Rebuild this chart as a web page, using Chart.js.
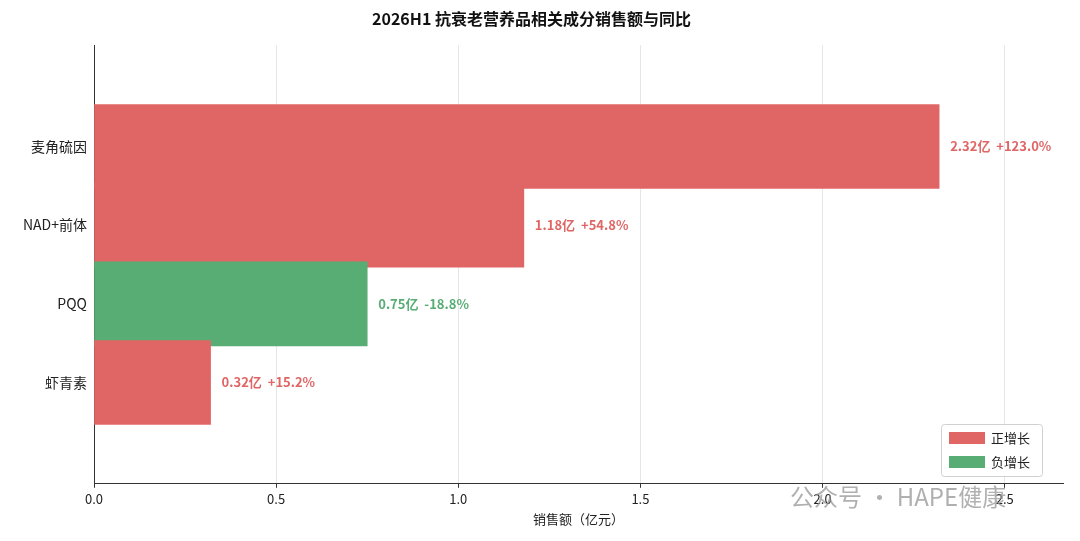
<!DOCTYPE html>
<html><head><meta charset="utf-8">
<script src="https://cdn.jsdelivr.net/npm/chart.js@4/dist/chart.umd.min.js"></script>
<style>
body{margin:0;background:#fff;}
#wrap{width:1080px;height:541px;position:relative;}
</style></head>
<body><div id="wrap"><canvas id="c" width="1080" height="541"></canvas></div>
<script>
// 数据
const categories = ['麦角硫因', 'NAD+前体', 'PQQ', '虾青素'];
const sales = [2.32, 1.18, 0.75, 0.32];
const yoy = [123.0, 54.8, -18.8, 15.2];
const xTicks = [0, 0.5, 1.0, 1.5, 2.0, 2.5];

const RED = '#e06666';
const GREEN = '#57ad74';
const FONT = '"Noto Sans CJK SC", "Noto Sans", sans-serif';

const colors = yoy.map(v => v >= 0 ? RED : GREEN);

// 柱子右侧标注 + 图例 + 水印
const extras = {
  id: 'extras',
  afterDatasetsDraw(chart) {
    const ctx = chart.ctx;
    const meta = chart.getDatasetMeta(0);
    ctx.save();
    ctx.font = 'bold 13px ' + FONT;
    ctx.textBaseline = 'middle';
    meta.data.forEach((bar, i) => {
      const sign = yoy[i] >= 0 ? '+' : '';
      ctx.fillStyle = colors[i];
      ctx.fillText(sales[i].toFixed(2) + '亿  ' + sign + yoy[i].toFixed(1) + '%', bar.x + 11, bar.y);
    });

    // 水印
    ctx.font = '24px ' + FONT;
    ctx.fillStyle = 'rgba(150,150,150,0.75)';
    ctx.fillText('公众号 · HAPE健康', 790, 497);

    // 图例
    const bx = 941, by = 424, bw = 101, bh = 52;
    ctx.fillStyle = 'rgba(255,255,255,0.85)';
    ctx.strokeStyle = '#d0d0d0';
    ctx.lineWidth = 1;
    ctx.beginPath();
    ctx.roundRect(bx + 0.5, by + 0.5, bw, bh, 3);
    ctx.fill(); ctx.stroke();
    ctx.font = '13px ' + FONT;
    [['正增长', RED], ['负增长', GREEN]].forEach((it, k) => {
      const yy = by + 14 + k * 24;
      ctx.fillStyle = it[1];
      ctx.fillRect(bx + 8, yy - 6, 36, 12);
      ctx.fillStyle = '#222';
      ctx.fillText(it[0], bx + 50, yy);
    });
    ctx.restore();
  }
};

new Chart(document.getElementById('c'), {
  type: 'bar',
  data: {
    datasets: [{
      data: sales.map((v, i) => ({ x: v, y: i })),
      backgroundColor: colors,
      barThickness: 84
    }]
  },
  options: {
    indexAxis: 'y',
    responsive: false,
    animation: false,
    layout: { padding: { left: 0, right: 17, top: 2, bottom: 10 } },
    plugins: {
      legend: { display: false },
      tooltip: { enabled: false },
      title: {
        display: true,
        text: '2026H1 抗衰老营养品相关成分销售额与同比',
        color: '#111',
        font: { family: FONT, size: 16, weight: 'bold' },
        padding: { top: 7, bottom: 17 }
      }
    },
    scales: {
      x: {
        min: 0, max: 2.66,
        afterBuildTicks(axis) { axis.ticks = xTicks.map(v => ({ value: v })); },
        ticks: {
          color: '#222',
          font: { family: FONT, size: 13 },
          callback: v => v.toFixed(1)
        },
        grid: { color: '#e6e6e6', drawTicks: true, tickColor: '#333', tickLength: 4 },
        border: { color: '#333' },
        title: { display: true, text: '销售额（亿元）', color: '#222', font: { family: FONT, size: 13 }, padding: { top: 2 } }
      },
      y: {
        type: 'linear',
        reverse: true,
        min: -0.59, max: 3.59,
        afterFit(axis) { axis.width = 94; },
        afterBuildTicks(axis) { axis.ticks = categories.map((c, i) => ({ value: i })); },
        ticks: { color: '#222', font: { family: FONT, size: 14 }, callback: v => categories[v] },
        grid: { display: false, drawTicks: true, tickColor: '#333', tickLength: 4 },
        border: { color: '#333' }
      }
    }
  },
  plugins: [extras]
});
</script></body></html>
